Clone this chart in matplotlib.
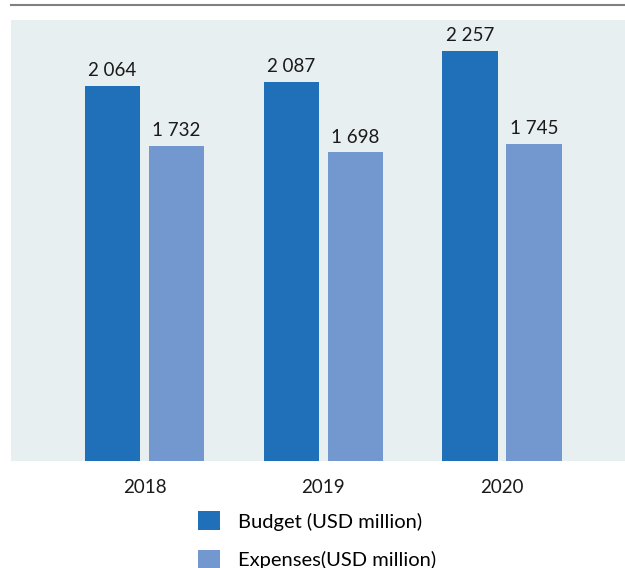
import matplotlib

matplotlib.use("Agg")
import matplotlib.pyplot as plt
from matplotlib.lines import Line2D
import numpy as np

years = ["2018", "2019", "2020"]
budget = [2064, 2087, 2257]
expenses = [1732, 1698, 1745]

BUDGET_COLOR = "#1f70b8"
EXPENSE_COLOR = "#7398cf"
BG_COLOR = "#e8eff1"

plt.rcParams["font.family"] = ["Lato", "DejaVu Sans"]

W, H = 625, 568
fig = plt.figure(figsize=(W / 100, H / 100), dpi=100)

# plot area in pixels: x 11..625, y 20..461
ax = fig.add_axes([11 / W, (H - 461) / H, 614 / W, 441 / H])
ax.set_facecolor(BG_COLOR)

x = np.arange(len(years))
width = 0.308
offset = 0.179
b1 = ax.bar(x - offset, budget, width, color=BUDGET_COLOR, label="Budget (USD million)")
b2 = ax.bar(x + offset, expenses, width, color=EXPENSE_COLOR, label="Expenses(USD million)")

fmt = lambda v: f"{int(v):,}".replace(",", " ")
for bars in (b1, b2):
    ax.bar_label(bars, labels=[fmt(v) for v in bars.datavalues], padding=5,
                 fontsize=13.5, color="#1a1a1a")

ax.set_xlim(-0.747, 2.688)
ax.set_ylim(0, 2427)
ax.set_xticks(x)
ax.set_xticklabels(years, fontsize=13.5, color="#1a1a1a")
ax.tick_params(axis="x", length=0, pad=13)
ax.set_yticks([])
for s in ax.spines.values():
    s.set_visible(False)

fig.add_artist(Line2D([11 / W, 1], [1 - 5 / H, 1 - 5 / H], color="#808080", linewidth=1.5))

fig.legend(handles=[b1, b2], loc="upper left", bbox_to_anchor=(198 / W, 1 - 511 / H),
           frameon=False, fontsize=14.5, handlelength=1.1, handleheight=1.1,
           handletextpad=0.9, labelspacing=0.95, borderpad=0, borderaxespad=0)

fig.savefig("out.png", dpi=100)
